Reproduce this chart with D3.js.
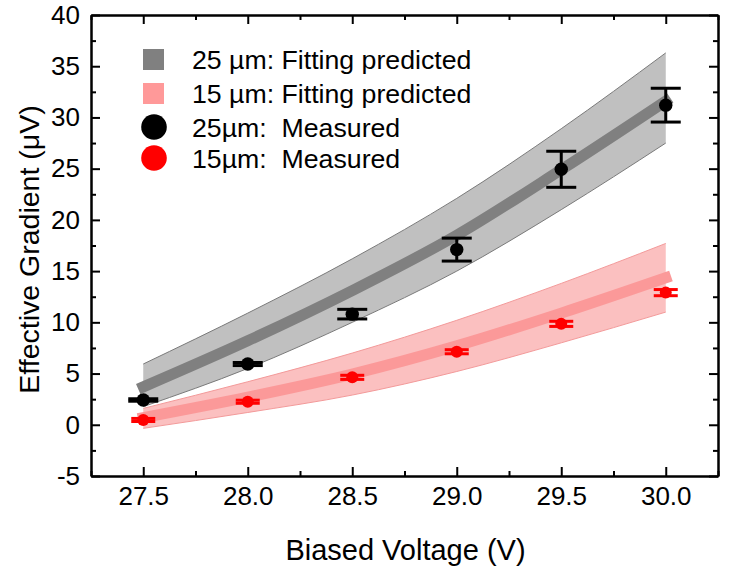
<!DOCTYPE html>
<html>
<head>
<meta charset="utf-8">
<script src="https://cdn.jsdelivr.net/npm/d3@7"></script>
<style>
  body { margin: 0; background: #fff; }
  text { font-family: "Liberation Sans", Arial, sans-serif; fill: #000; }
</style>
</head>
<body>
<div id="chart"></div>
<script>
// data
var voltage = [27.5, 28.0, 28.5, 29.0, 29.5, 30.0];

var meas25 = [2.42, 5.93, 10.8, 17.1, 24.94, 31.2];
var err25  = [0.12, 0.15, 0.47, 1.12, 1.76, 1.65];
var meas15 = [0.47, 2.25, 4.63, 7.13, 9.85, 12.9];
var err15  = [0.15, 0.15, 0.2, 0.2, 0.25, 0.3];

var fit25Upper = [5.93, 10.9, 16.2, 22.1, 28.9, 36.3];
var fit25Lower = [1.77, 5.5, 10.0, 15.0, 21.0, 27.5];
var fit25Mid   = [3.7, 8.2, 13.1, 18.5, 24.9, 31.6];
var fit15Upper = [1.6, 4.2, 7.0, 10.2, 13.8, 17.7];
var fit15Lower = [-0.35, 1.2, 2.9, 5.2, 8.0, 11.0];
var fit15Mid   = [0.7, 2.7, 4.95, 7.7, 10.9, 14.35];

var xTicks = [27.5, 28.0, 28.5, 29.0, 29.5, 30.0];
var xMinor = [27.25, 27.75, 28.25, 28.75, 29.25, 29.75, 30.25];
var yTicks = [-5, 0, 5, 10, 15, 20, 25, 30, 35, 40];
var yMinor = [-2.5, 2.5, 7.5, 12.5, 17.5, 22.5, 27.5, 32.5, 37.5];

var legendLabels = ["25 \u00b5m: Fitting predicted", "15 \u00b5m: Fitting predicted",
                    "25\u00b5m:  Measured", "15\u00b5m:  Measured"];

var W = 739, H = 566;
var pLeft = 91, pRight = 718, pTop = 15, pBottom = 476;

var svg = d3.select("#chart").append("svg")
    .attr("width", W)
    .attr("height", H);

var xScale = d3.scaleLinear().domain([27.25, 30.25]).range([pLeft, pRight]);
var yScale = d3.scaleLinear().domain([-5, 40]).range([pBottom, pTop]);

function zip(a, b){
	return voltage.map(function(v, i){ return {x: v, y0: a[i], y1: b ? b[i] : a[i]}; });
}

// bands
function drawBand(lo, hi, mid, fillOuter, edge, fillInner){
	var data = zip(lo, hi);
	var area = d3.area()
		.x(function(d){ return xScale(d.x); })
		.y0(function(d){ return yScale(d.y0); })
		.y1(function(d){ return yScale(d.y1); })
		.curve(d3.curveMonotoneX);
	svg.append("path").datum(data)
		.attr("d", area)
		.attr("fill", fillOuter)
		.attr("stroke", "none");
	["y0", "y1"].forEach(function(k){
		var ln = d3.line()
			.x(function(d){ return xScale(d.x); })
			.y(function(d){ return yScale(d[k]); })
			.curve(d3.curveMonotoneX);
		svg.append("path").datum(data)
			.attr("d", ln)
			.attr("fill", "none")
			.attr("stroke", edge)
			.attr("stroke-width", 1);
	});
	var midLine = d3.line()
		.x(function(d){ return xScale(d.x); })
		.y(function(d){ return yScale(d.y0); })
		.curve(d3.curveMonotoneX);
	svg.append("path").datum(zip(mid))
		.attr("d", midLine)
		.attr("fill", "none")
		.attr("stroke", fillInner)
		.attr("stroke-width", 11)
		.attr("stroke-linecap", "square");
}
drawBand(fit25Lower, fit25Upper, fit25Mid, "#c0c0c0", "#7a7a7a", "#808080");
drawBand(fit15Lower, fit15Upper, fit15Mid, "#fbc0c0", "#f39a9a", "#fb9999");

// measured points with error bars
function drawPoints(vals, errs, color, r, capW){
	var g = svg.append("g");
	vals.forEach(function(v, i){
		var cx = xScale(voltage[i]);
		var yt = yScale(v + errs[i]), yb = yScale(v - errs[i]);
		g.append("line").attr("x1", cx).attr("x2", cx).attr("y1", yt).attr("y2", yb)
			.attr("stroke", color).attr("stroke-width", 3);
		[yt, yb].forEach(function(yy){
			g.append("line").attr("x1", cx - capW/2).attr("x2", cx + capW/2)
				.attr("y1", yy).attr("y2", yy)
				.attr("stroke", color).attr("stroke-width", 3);
		});
		g.append("circle").attr("cx", cx).attr("cy", yScale(v)).attr("r", r).attr("fill", color);
	});
}
drawPoints(meas25, err25, "#000", 6.7, 30);
drawPoints(meas15, err15, "#ff0000", 6, 24);

// axes
var fmtY = function(d){ return String(d); };
svg.append("g").attr("class", "axis").attr("transform", "translate(0," + pBottom + ")")
	.call(d3.axisBottom(xScale).tickValues(xTicks).tickFormat(d3.format(".1f"))
		.tickSizeInner(-9).tickSizeOuter(0).tickPadding(11));
svg.append("g").attr("class", "axis").attr("transform", "translate(0," + pBottom + ")")
	.call(d3.axisBottom(xScale).tickValues(xMinor).tickFormat("").tickSizeInner(-5).tickSizeOuter(0));
svg.append("g").attr("class", "axis").attr("transform", "translate(0," + pTop + ")")
	.call(d3.axisTop(xScale).tickValues(xTicks).tickFormat("").tickSizeInner(-9).tickSizeOuter(0));
svg.append("g").attr("class", "axis").attr("transform", "translate(0," + pTop + ")")
	.call(d3.axisTop(xScale).tickValues(xMinor).tickFormat("").tickSizeInner(-5).tickSizeOuter(0));
svg.append("g").attr("class", "axis").attr("transform", "translate(" + pLeft + ",0)")
	.call(d3.axisLeft(yScale).tickValues(yTicks).tickFormat(fmtY)
		.tickSizeInner(-9).tickSizeOuter(0).tickPadding(11));
svg.append("g").attr("class", "axis").attr("transform", "translate(" + pLeft + ",0)")
	.call(d3.axisLeft(yScale).tickValues(yMinor).tickFormat("").tickSizeInner(-5).tickSizeOuter(0));
svg.append("g").attr("class", "axis").attr("transform", "translate(" + pRight + ",0)")
	.call(d3.axisRight(yScale).tickValues(yTicks).tickFormat("").tickSizeInner(-9).tickSizeOuter(0));
svg.append("g").attr("class", "axis").attr("transform", "translate(" + pRight + ",0)")
	.call(d3.axisRight(yScale).tickValues(yMinor).tickFormat("").tickSizeInner(-5).tickSizeOuter(0));

svg.selectAll(".axis path.domain").attr("stroke", "#000").attr("stroke-width", 2);
svg.selectAll(".axis line").attr("stroke", "#000").attr("stroke-width", 2);
svg.selectAll(".axis text")
	.attr("font-family", "Liberation Sans, Arial, sans-serif")
	.attr("font-size", 26).attr("fill", "#000");

// axis titles
svg.append("text")
	.attr("x", (pLeft + pRight) / 2 + 1).attr("y", 560)
	.attr("text-anchor", "middle")
	.attr("font-size", 29)
	.text("Biased Voltage (V)");
svg.append("text")
	.attr("transform", "translate(39," + ((pTop + pBottom) / 2 + 4) + ") rotate(-90)")
	.attr("text-anchor", "middle")
	.attr("font-size", 28.5)
	.text("Effective Gradient (\u03bcV)");

// legend
var legendY = [59, 93, 127, 158];
var legend = svg.append("g");
legend.append("rect").attr("x", 143).attr("y", legendY[0] - 10).attr("width", 21).attr("height", 21).attr("fill", "#808080");
legend.append("rect").attr("x", 143).attr("y", legendY[1] - 10).attr("width", 21).attr("height", 21).attr("fill", "#ff9999");
legend.append("circle").attr("cx", 154).attr("cy", legendY[2]).attr("r", 12.8).attr("fill", "#000");
legend.append("circle").attr("cx", 154).attr("cy", legendY[3]).attr("r", 12.8).attr("fill", "#ff0000");
legend.selectAll("text.lab").data(legendLabels).enter().append("text")
	.attr("class", "lab")
	.attr("x", 192)
	.attr("y", function(d, i){ return legendY[i]; })
	.attr("dy", "0.36em")
	.attr("font-size", 26.7)
	.style("white-space", "pre")
	.text(function(d){ return d; });
</script>
</body>
</html>
